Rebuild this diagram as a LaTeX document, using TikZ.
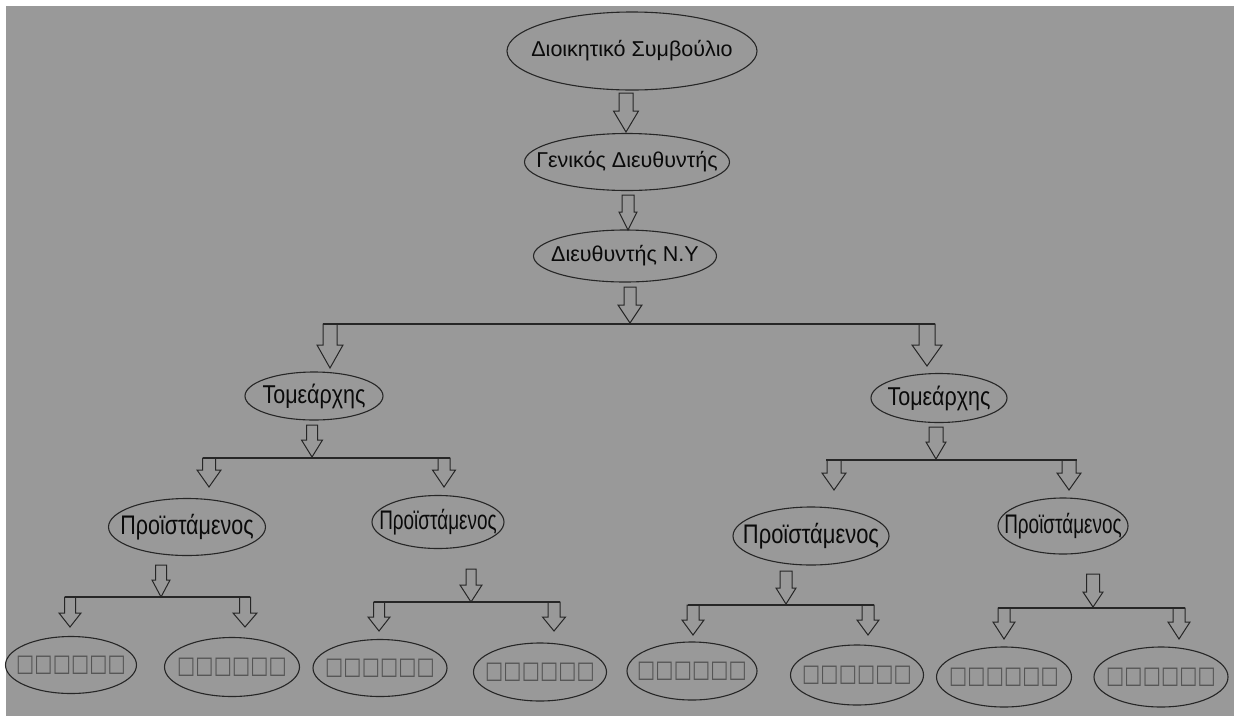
\documentclass[tikz,border=0pt]{standalone}
\usepackage{fontspec}
\setmainfont{Liberation Sans}
\newfontfamily\symfont{DejaVu Sans}
\usetikzlibrary{shapes.geometric}
\definecolor{bg}{RGB}{153,153,153}
\definecolor{ink}{RGB}{38,38,38}
\definecolor{txtc}{RGB}{10,10,10}
\definecolor{boxc}{RGB}{85,85,85}
\newcommand{\barrow}[6]{%
  \draw[blk] (#1-#5,#2) -- (#1+#5,#2) -- (#1+#5,#3) -- (#1+#6,#3) -- (#1,#4) -- (#1-#6,#3) -- (#1-#5,#3) -- cycle;}
\newcommand{\tofu}{\makebox[18.3pt]{\scalebox{0.8}[1]{□}}}
\newcommand{\tofus}{{\symfont\fontsize{24}{24}\selectfont\color{boxc}\tofu\tofu\tofu\tofu\tofu\tofu}}
\tikzset{
  ell/.style={draw=ink, line width=1.1pt, ellipse, inner sep=0pt},
  txt/.style={text=txtc, inner sep=0pt, font=\fontsize{21.5}{22}\selectfont},
  blk/.style={draw=ink, line width=1pt, line join=miter},
  bar/.style={draw=ink, line width=1.1pt},
}
\begin{document}
\begin{tikzpicture}[x=1pt,y=-1pt]
\useasboundingbox (0,0) rectangle (1234,716);
\fill[white] (0,0) rectangle (1234,716);
\fill[bg] (6,6) rectangle (1234,716);

% top chain
\node[ell, minimum width=250pt, minimum height=78pt, label={[txt]center:Διοικητικό Συμβούλιο}] (n1) at (632,51) {};
\node[ell, minimum width=205pt, minimum height=57pt, label={[txt]center:Γενικός Διευθυντής}] (n2) at (627,162) {};
\node[ell, minimum width=183pt, minimum height=52pt, label={[txt]center:Διευθυντής Ν.Υ}] (n3) at (625,256) {};

\barrow{626}{93}{111}{132}{7}{12.5}
\barrow{628}{195}{212}{230}{6}{9}
\barrow{630}{287}{305}{323}{6}{12}

% big bar
\coordinate (b0l) at (323,324);
\coordinate (b0r) at (935,324);
\draw[bar] (b0l) -- (b0r);
\barrow{330}{324}{345}{368}{7}{13}
\barrow{927}{324}{345}{366}{8}{15}

\node[ell, minimum width=138pt, minimum height=48pt, label={[txt]center:\scalebox{1}[1.2]{Τομεάρχης}}] (t1) at (314,396) {};
\node[ell, minimum width=136pt, minimum height=49pt, label={[txt]center:\scalebox{1}[1.2]{Τομεάρχης}}] (t2) at (939,398) {};

% left sector bar
\barrow{312}{425}{440}{457}{5.5}{10.5}
\coordinate (b1l) at (203,458);
\coordinate (b1r) at (450,458);
\draw[bar] (b1l) -- (b1r);
\barrow{209}{458}{470}{487}{6.5}{12}
\barrow{444}{458}{470}{487}{6}{11.5}

% right sector bar
\barrow{936}{427}{442}{459}{7}{10}
\coordinate (b2l) at (826,460);
\coordinate (b2r) at (1077,460);
\draw[bar] (b2l) -- (b2r);
\barrow{834}{460}{473}{490}{7}{12}
\barrow{1069}{460}{473}{490}{7}{12}

% Proistamenoi
\node[ell, minimum width=157pt, minimum height=57pt, label={[txt]center:\scalebox{1}[1.25]{Προϊστάμενος}}] (p1) at (187,527) {};
\node[ell, minimum width=132pt, minimum height=53pt, label={[txt]center:\scalebox{0.88}[1.25]{Προϊστάμενος}}] (p2) at (438,522) {};
\node[ell, minimum width=156pt, minimum height=58pt, label={[txt]center:\scalebox{1.02}[1.25]{Προϊστάμενος}}] (p3) at (811,536) {};
\node[ell, minimum width=130pt, minimum height=56pt, label={[txt]center:\scalebox{0.88}[1.25]{Προϊστάμενος}}] (p4) at (1063,526) {};

% P1 group
\barrow{161}{565}{580}{597}{5.5}{9}
\coordinate (c1l) at (65,597);
\coordinate (c1r) at (250,597);
\draw[bar] (c1l) -- (c1r);
\barrow{70}{597}{613}{627}{5.5}{11}
\barrow{245}{597}{613}{627}{5.5}{12}

% P2 group
\barrow{471}{569}{585}{602}{5}{11}
\coordinate (c2l) at (374,602);
\coordinate (c2r) at (560,602);
\draw[bar] (c2l) -- (c2r);
\barrow{379}{602}{617}{631}{5.5}{11}
\barrow{554}{602}{617}{631}{6}{11.5}

% P3 group
\barrow{786}{571}{588}{604}{6}{10}
\coordinate (c3l) at (688,605);
\coordinate (c3r) at (874,605);
\draw[bar] (c3l) -- (c3r);
\barrow{693}{605}{620}{635}{6}{11}
\barrow{868}{605}{620}{635}{6}{11}

% P4 group
\barrow{1093}{574}{592}{607}{6.5}{10}
\coordinate (c4l) at (998,608);
\coordinate (c4r) at (1185,608);
\draw[bar] (c4l) -- (c4r);
\barrow{1004}{608}{622}{639}{6}{11}
\barrow{1179}{608}{622}{639}{6}{11}

% bottom
\node[ell, minimum width=131pt, minimum height=57pt, label={[inner sep=0pt]center:\tofus}] (q1) at (71,665) {};
\node[ell, minimum width=135pt, minimum height=59pt, label={[inner sep=0pt]center:\tofus}] (q2) at (232,667) {};
\node[ell, minimum width=134pt, minimum height=57pt, label={[inner sep=0pt]center:\tofus}] (q3) at (380,668) {};
\node[ell, minimum width=133pt, minimum height=58pt, label={[inner sep=0pt]center:\tofus}] (q4) at (540,672) {};
\node[ell, minimum width=130pt, minimum height=58pt, label={[inner sep=0pt]center:\tofus}] (q5) at (692,671) {};
\node[ell, minimum width=133pt, minimum height=60pt, label={[inner sep=0pt]center:\tofus}] (q6) at (857,675) {};
\node[ell, minimum width=135pt, minimum height=60pt, label={[inner sep=0pt]center:\tofus}] (q7) at (1004,677) {};
\node[ell, minimum width=134pt, minimum height=60pt, label={[inner sep=0pt]center:\tofus}] (q8) at (1161,677) {};
\end{tikzpicture}
\end{document}
